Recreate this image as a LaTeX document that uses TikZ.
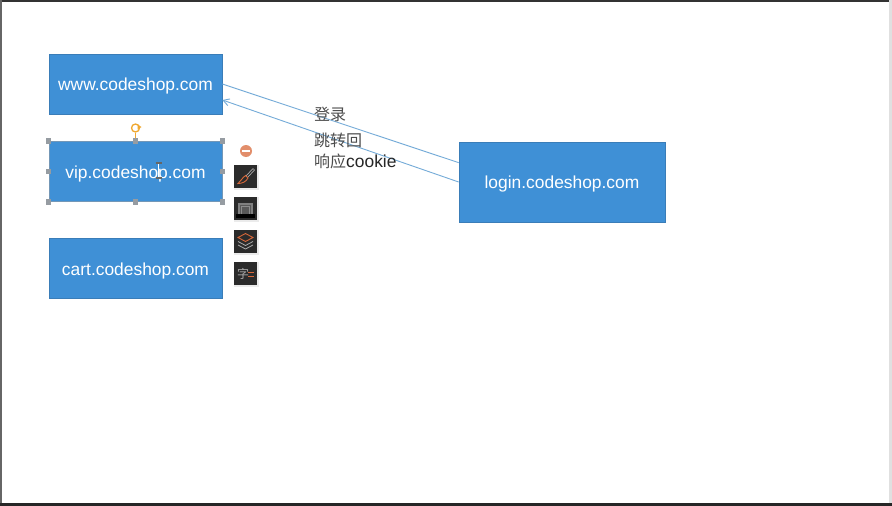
\documentclass[tikz,border=0pt]{standalone}
\usepackage{fontspec}
\setmainfont{Liberation Sans}
\newfontfamily\cjk{Noto Sans CJK SC}
\usetikzlibrary{arrows.meta}
\definecolor{boxblue}{HTML}{3F90D6}
\definecolor{boxedge}{HTML}{3A7DB8}
\definecolor{linkblue}{HTML}{74ABD8}
\definecolor{handlegray}{HTML}{969CA2}
\definecolor{toolbg}{HTML}{2B2B2B}
\definecolor{toolorange}{HTML}{D8683A}
\definecolor{toolgray}{HTML}{A9A9A9}
\definecolor{rotorange}{HTML}{F0A830}
\tikzset{
  x=1pt, y=-1pt,
  hostbox/.style={draw=boxedge, line width=0.7pt, fill=boxblue, text=white, minimum width=173pt, minimum height=60pt, inner sep=0pt, text height=13pt, text depth=0pt, font=\fontsize{17.4}{20}\selectfont},
  link/.style={draw=linkblue, line width=0.9pt},
  grip/.style={draw=none, fill=handlegray, minimum size=5.5pt, inner sep=0pt},
  toolbtn/.style={fill=toolbg, draw=none, minimum size=23pt, inner sep=0pt},
  toolshadow/.style={fill=black!8, draw=none, minimum size=25pt, inner sep=0pt},
  caption/.style={anchor=west, inner sep=0pt, text=black!85, font=\fontsize{16}{18}\selectfont},
}
\begin{document}
\begin{tikzpicture}
\useasboundingbox (0,0) rectangle (892,506);
\fill[white] (0,0) rectangle (892,506);
% window edges
\fill[black!80] (0,0) rectangle (892,2);
\fill[black!60] (0,0) rectangle (1.5,506);
\fill[black!12] (889,0) rectangle (892,506);
\fill[black!85] (0,503) rectangle (892,506);

% host boxes
\node[hostbox] (www) at (135.5,84) {www.codeshop.com};
\node[hostbox, draw=handlegray!60!boxblue] (vip) at (135.5,171.5) {vip.codeshop.com};
\node[hostbox] (cart) at (135.5,268.5) {cart.codeshop.com};
\node[hostbox, minimum width=206pt, minimum height=80pt] (login) at (562,182) {login.codeshop.com};

% redirect connectors
\draw[link] (www.east) -- ([yshift=-21pt]login.north west);
\draw[link, -{Straight Barb[length=6pt,width=7pt]}] (login.west) -- ([yshift=-16pt]www.east);

% connector captions
\node[caption, text=black!70] (t1) at (314,114) {\cjk 登录};
\node[caption, text=black!70] (t2) at (314,140.5) {\cjk 跳转回};
\node[caption] (t3) at (314,161.5) {{\cjk\color{black!70}响应}\fontsize{17.4}{18}\selectfont cookie};

% selection grips around the active box
\foreach \n/\a in {g1/north west, g2/north, g3/north east, g4/west, g5/east, g6/south west, g7/south, g8/south east}
  \node[grip] (\n) at (vip.\a) {};

% rotation handle
\node[circle, draw=rotorange, line width=1.3pt, minimum size=8pt, inner sep=0pt] (rot) at (135.5,128) {};
\fill[rotorange] (137.5,124.5) -- (141.5,127) -- (137.5,129.5) -- cycle;
\draw[rotorange, line width=1pt] (rot) -- (g2);

% text cursor
\draw[black!60, line width=1.4pt] (158.5,163.5) -- (158.5,177.5)
  (155.5,163) -- (161.5,163) (155.5,178) -- (161.5,178);
\draw[white, line width=0.5pt] (158.5,164) -- (158.5,177);

% remove badge
\node[circle, fill=toolorange!75!white, minimum size=12pt, inner sep=0pt] (minus) at (246,151) {};
\draw[white, line width=1.6pt] (242,151) -- (250,151);

% tool buttons
\foreach \bn/\by in {brush/176, frame/208.5, layers/241, charbtn/273.5} {
  \node[toolshadow] at (246.5,\by+1) {};
  \node[toolbtn] (\bn) at (245.5,\by) {};
}

% brush glyph
\draw[toolgray, line width=0.7pt] (253,168.5) -- (246,176) (254.5,170) -- (247.5,177.5) (253,168.5) -- (254.5,170);
\draw[toolorange, line width=0.9pt] (245.5,175.5) -- (248,178) .. controls (246,182) and (242,183.5) .. (238,183.5) .. controls (241,181) and (242,178) .. cycle;

% frame glyph
\draw[black!50, line width=2pt] (239,214) -- (239,204) -- (252,204) -- (252,214);
\fill[black!65] (240,205) rectangle (251,214);
\draw[black!45, line width=1pt] (241.5,214) -- (241.5,206.5) -- (249.5,206.5) -- (249.5,214);
\fill[black] (236,214) rectangle (255,217.5);

% layers glyph
\draw[toolgray, line width=0.8pt] (238,245) -- (245.5,249) -- (253,245);
\draw[toolgray, line width=0.8pt] (238,241.5) -- (245.5,245.5) -- (253,241.5);
\draw[toolorange, line width=0.9pt] (238,237.5) -- (245.5,233.5) -- (253,237.5) -- (245.5,241.5) -- cycle;

% character glyph
\node[inner sep=0pt, text=toolgray, font=\cjk\fontsize{12}{12}\selectfont] (zi) at (243,273.5) {字};
\draw[toolorange, line width=0.9pt] (248,272) -- (254,272) (248,276) -- (254,276);
\end{tikzpicture}
\end{document}
